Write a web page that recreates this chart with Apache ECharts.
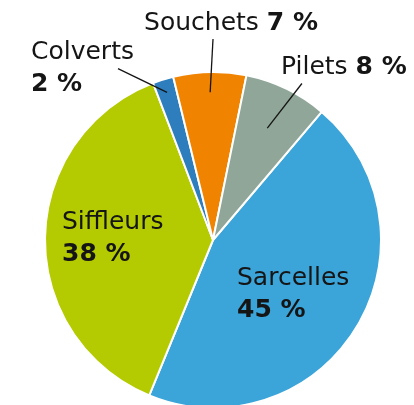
<!DOCTYPE html>
<html>
<head>
<meta charset="utf-8">
<script src="https://cdn.jsdelivr.net/npm/echarts@6/dist/echarts.min.js"></script>
<style>
  html, body { margin: 0; padding: 0; background: #fff; }
  #chart { width: 414px; height: 405px; }
</style>
</head>
<body>
<div id="chart"></div>
<script>
const names = ['Sarcelles', 'Siffleurs', 'Colverts', 'Souchets', 'Pilets'];
const shares = [45, 38, 2, 7, 8];
const colors = ['#3ba4d9', '#b3cb00', '#2e7dbd', '#f08300', '#8fa698'];

const CX = 213, CY = 240, R = 168;
const START = 49.7;

// label spots; leader line goes from a fraction of R on the slice middle
// to a point given as [radius, degrees clockwise from top]
const spots = {
  Sarcelles: { x: 237, y: 294.5 },
  Siffleurs: { x: 62, y: 238 },
  Colverts: { x: 31, y: 68, from: 0.92, to: [196, -29] },
  Souchets: { x: 231, y: 23.5, align: 'center', oneLine: true, from: 0.88, to: [201, 0] },
  Pilets: { x: 281, y: 67, oneLine: true, from: 0.74, to: [180, 29.6] }
};

const total = shares.reduce((a, b) => a + b, 0);

function midAngle(i) {
  let before = 0;
  for (let k = 0; k < i; k++) before += shares[k];
  return (90 - START) + (before + shares[i] / 2) / total * 360;
}

function polar(r, deg) {
  const t = deg * Math.PI / 180;
  return [CX + r * Math.sin(t), CY - r * Math.cos(t)];
}

const font = 'DejaVu Sans';

let myChart = echarts.init(document.getElementById('chart'));
let option = {
  backgroundColor: '#fff',
  animation: false,
  series: [
    {
      // the slices
      type: 'pie',
      center: [CX, CY],
      radius: R,
      startAngle: START,
      silent: true,
      itemStyle: {
        borderColor: '#fff',
        borderWidth: 2
      },
      label: { show: false },
      labelLine: { show: false },
      data: names.map((n, i) => ({ name: n, value: shares[i], itemStyle: { color: colors[i] } }))
    },
    {
      // same pie, transparent, on top: carries labels and leader lines
      type: 'pie',
      z: 5,
      center: [CX, CY],
      radius: R,
      startAngle: START,
      silent: true,
      avoidLabelOverlap: false,
      itemStyle: { color: 'transparent', borderWidth: 0 },
      label: {
        formatter(p) {
          if (spots[p.name].oneLine) return '{n|' + p.name + ' }{p|' + p.value + ' %}';
          return '{n|' + p.name + '}\n{p|' + p.value + ' %}';
        },
        rich: {
          n: { fontFamily: font, fontSize: 25, color: '#151515', lineHeight: 32 },
          p: { fontFamily: font, fontSize: 25, fontWeight: 'bold', color: '#151515', lineHeight: 32 }
        }
      },
      labelLine: {
        lineStyle: { color: '#151515', width: 1.3 }
      },
      labelLayout(p) {
        const s = spots[names[p.dataIndex]];
        const out = { x: s.x, y: s.y, align: s.align || 'left', verticalAlign: 'middle' };
        if (s.from) {
          out.labelLinePoints = [polar(R * s.from, midAngle(p.dataIndex)), polar(s.to[0], s.to[1])];
        }
        return out;
      },
      data: names.map((n, i) => ({
        name: n,
        value: shares[i],
        label: { position: spots[n].from ? 'outside' : 'inside' },
        labelLine: { show: !!spots[n].from }
      }))
    }
  ]
};
myChart.setOption(option);
</script>
</body>
</html>
